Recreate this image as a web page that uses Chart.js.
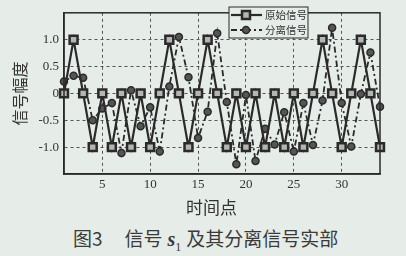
<!DOCTYPE html>
<html>
<head>
<meta charset="utf-8">
<script src="https://cdn.jsdelivr.net/npm/chart.js@4.4.0/dist/chart.umd.min.js"></script>
<style>
  html, body { margin: 0; padding: 0; background: #e6ece8; }
  #wrap { position: relative; width: 406px; height: 256px; overflow: hidden; }
  #chart { position: absolute; left: 0; top: 0; }
  #caption {
    position: absolute; left: 73px; top: 226px; white-space: nowrap;
    font: 19px "Noto Sans CJK SC"; color: #3a3a3a; line-height: 24px;
  }
  #caption .gap { display: inline-block; width: 22px; }
  #caption .sp { display: inline-block; width: 5px; }
  #caption .s { font: italic bold 20px "Liberation Serif"; }
  #caption sub { font: 12px "Liberation Serif"; }
</style>
</head>
<body>
<div id="wrap">
  <canvas id="chart" width="406" height="222"></canvas>
  <div id="caption">图3<span class="gap"></span>信号<span class="sp"></span><span class="s">s</span><sub>1</sub><span class="sp"></span>及其分离信号实部</div>
</div>
<script>
// time points 1..34
const timePoints = [1, 2, 3, 4, 5, 6, 7, 8, 9, 10, 11, 12, 13, 14, 15, 16, 17,
                    18, 19, 20, 21, 22, 23, 24, 25, 26, 27, 28, 29, 30, 31, 32, 33, 34];

// original signal (squares)
const originalSignal = [0, 1, 0, -1, 0, -1, 0, -1, 0, -1, 0, 1, 0, -1, 0, 1, 0,
                        -1, 0, -1, 0, -1, 0, -1, 0, -1, 0, 1, 0, -1, 0, 1, 0, -1];

// separated signal (circles)
const separatedSignal = [0.22, 0.33, 0.29, -0.5, -0.28, -0.18, -1.11, 0.06, -0.61, -0.26, -1.08, 0.13,
                         1.05, 0.3, -0.83, -0.34, 1.12, -0.16, -1.32, -0.03, -1.26, -0.66, -0.95, -0.35,
                         -1.08, -0.18, -0.96, -0.13, 1.22, -0.18, -0.99, -0.01, 0.76, -0.25];

const seriesNames = ['原始信号', '分离信号'];
const xTicks = [5, 10, 15, 20, 25, 30];
const yTicks = [-1, -0.5, 0, 0.5, 1];

const ink = '#2a2a2a';
const paper = '#e6ece8';

function toPoints(values) {
    return values.map((v, i) => ({ x: timePoints[i], y: v }));
}

// box round the plot + legend in the upper right
const framePlugin = {
    id: 'frame',
    afterDraw(chart) {
        const ctx = chart.ctx;
        const a = chart.chartArea;
        ctx.save();
        ctx.strokeStyle = ink;
        ctx.lineWidth = 1.5;
        ctx.strokeRect(a.left, a.top, a.right - a.left, a.bottom - a.top);

        // legend
        const left = 229, top = 7, w = 79, h = 31;
        ctx.fillStyle = paper;
        ctx.fillRect(left, top, w, h);
        ctx.lineWidth = 1;
        ctx.strokeRect(left, top, w, h);

        const rows = [top + 8, top + 23];
        chart.data.datasets.forEach((ds, i) => {
            const y = rows[i];
            ctx.strokeStyle = ink;
            ctx.lineWidth = ds.borderWidth;
            ctx.setLineDash(ds.borderDash || []);
            ctx.beginPath();
            ctx.moveTo(left + 2, y);
            ctx.lineTo(left + 33, y);
            ctx.stroke();
            ctx.setLineDash([]);
            ctx.fillStyle = ds.pointBackgroundColor;
            ctx.lineWidth = ds.pointBorderWidth;
            const cx = left + 17;
            ctx.beginPath();
            if (ds.pointStyle === 'rect') {
                ctx.rect(cx - 4, y - 4, 8, 8);
            } else {
                ctx.arc(cx, y, 3.5, 0, Math.PI * 2);
            }
            ctx.fill();
            ctx.stroke();
            ctx.fillStyle = '#333';
            ctx.font = '10.5px "Noto Sans CJK SC"';
            ctx.textBaseline = 'middle';
            ctx.fillText(ds.label, left + 36, y + 0.5);
        });
        ctx.restore();
    }
};

new Chart(document.getElementById('chart'), {
    type: 'line',
    data: {
        datasets: [{
            label: seriesNames[0],
            data: toPoints(originalSignal),
            borderColor: ink,
            borderWidth: 2.2,
            pointStyle: 'rect',
            pointRadius: 5.6,
            pointBorderWidth: 2.5,
            pointBorderColor: ink,
            pointBackgroundColor: '#b5b5b5',
            tension: 0,
            clip: false
        }, {
            label: seriesNames[1],
            data: toPoints(separatedSignal),
            borderColor: ink,
            borderWidth: 1.8,
            borderDash: [6, 3, 2, 3],
            pointStyle: 'circle',
            pointRadius: 3.5,
            pointBorderWidth: 1.5,
            pointBorderColor: ink,
            pointBackgroundColor: '#555',
            tension: 0,
            clip: false
        }]
    },
    options: {
        responsive: false,
        animation: false,
        layout: { padding: { left: 0, right: 26, top: 6, bottom: 0 } },
        plugins: { legend: { display: false }, tooltip: { enabled: false } },
        scales: {
            x: {
                type: 'linear',
                min: 1,
                max: 34,
                afterBuildTicks: (scale) => { scale.ticks = xTicks.map(v => ({ value: v })); },
                afterFit: (scale) => { scale.height = 48; },
                ticks: {
                    color: '#333',
                    font: { family: 'Liberation Serif', size: 13 },
                    padding: 3,
                    maxRotation: 0
                },
                grid: { color: '#555', lineWidth: 1, drawTicks: false },
                border: { display: true, color: ink, width: 1.5, dash: [3, 3] },
                title: {
                    display: true,
                    text: '时间点\u3000 ',
                    color: '#333',
                    font: { family: 'Noto Sans CJK SC', size: 17 },
                    padding: { top: 4, bottom: 4 }
                }
            },
            y: {
                min: -1.5,
                max: 1.5,
                afterBuildTicks: (scale) => { scale.ticks = yTicks.map(v => ({ value: v })); },
                afterFit: (scale) => { scale.width = 64; },
                ticks: {
                    color: '#333',
                    font: { family: 'Liberation Serif', size: 13 },
                    padding: 5,
                    callback: (v) => v === 0 ? '0' : v.toFixed(1)
                },
                grid: { color: '#555', lineWidth: 1, drawTicks: false },
                border: { display: true, color: ink, width: 1.5, dash: [3, 3] },
                title: {
                    display: true,
                    text: '信号幅度',
                    color: '#333',
                    font: { family: 'Noto Sans CJK SC', size: 16 },
                    padding: { top: 10, bottom: 10 }
                }
            }
        }
    },
    plugins: [framePlugin]
});
</script>
</body>
</html>
